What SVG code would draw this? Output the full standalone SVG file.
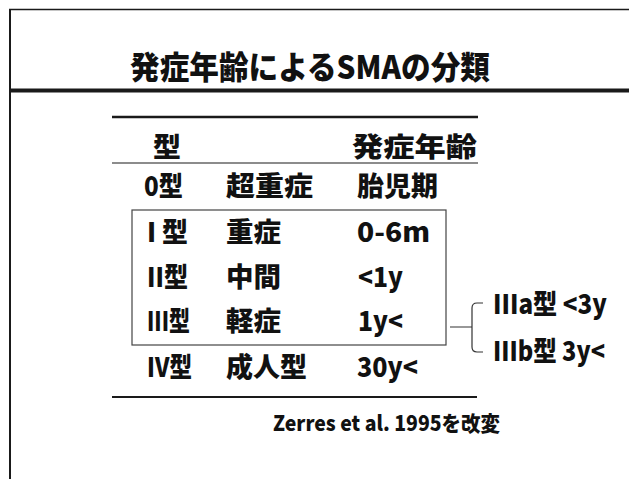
<svg xmlns="http://www.w3.org/2000/svg" width="629" height="479" viewBox="0 0 629 479">
<style>
.t{font-family:"Noto Sans CJK JP","Liberation Sans",sans-serif;font-weight:900;fill:#111;}
.r{font-size:27px;}
.rule{stroke:#1a1a1a;fill:none;}
.thin{stroke:#333;fill:none;stroke-width:1.2;}
</style>
<rect width="629" height="479" fill="#fff"/>
<g id="frame">
<line class="rule" x1="9" y1="9.5" x2="629" y2="9.5" stroke-width="1.5"/>
<line class="rule" x1="10" y1="9" x2="10" y2="479" stroke-width="2"/>
<line class="rule" x1="9" y1="90.5" x2="629" y2="90.5" stroke-width="4"/>
</g>
<g id="title">
<text class="t" x="130" y="79" font-size="32" textLength="360" lengthAdjust="spacingAndGlyphs">発症年齢によるSMAの分類</text>
</g>
<g id="table-rules">
<line class="rule" x1="112" y1="117" x2="478" y2="117" stroke-width="2.5"/>
<line class="rule" x1="112" y1="163" x2="478" y2="163" stroke-width="1.2"/>
<line class="rule" x1="112" y1="397" x2="477" y2="397" stroke-width="2"/>
</g>
<g id="header">
<text class="t r" x="153" y="157" textLength="28" lengthAdjust="spacingAndGlyphs">型</text>
<text class="t r" x="352" y="157" textLength="125" lengthAdjust="spacingAndGlyphs">発症年齢</text>
</g>
<g id="row0">
<text class="t r" x="144" y="196" textLength="39" lengthAdjust="spacingAndGlyphs">0型</text>
<text class="t r" x="226" y="196" textLength="87" lengthAdjust="spacingAndGlyphs">超重症</text>
<text class="t r" x="357" y="196" textLength="81" lengthAdjust="spacingAndGlyphs">胎児期</text>
</g>
<g id="box">
<rect x="132" y="210" width="314" height="135" fill="none" stroke="#444" stroke-width="1.2"/>
</g>
<g id="row1">
<text class="t r" x="147" y="242" textLength="41" lengthAdjust="spacingAndGlyphs">I 型</text>
<text class="t r" x="226" y="242" textLength="55" lengthAdjust="spacingAndGlyphs">重症</text>
<text class="t r" x="357" y="242" textLength="73" lengthAdjust="spacingAndGlyphs">0-6m</text>
</g>
<g id="row2">
<text class="t r" x="147" y="287" textLength="41" lengthAdjust="spacingAndGlyphs">II型</text>
<text class="t r" x="226" y="287" textLength="55" lengthAdjust="spacingAndGlyphs">中間</text>
<text class="t r" x="358" y="287" textLength="45" lengthAdjust="spacingAndGlyphs">&lt;1y</text>
</g>
<g id="row3">
<text class="t r" x="147" y="331" textLength="43" lengthAdjust="spacingAndGlyphs">III型</text>
<text class="t r" x="226" y="331" textLength="55" lengthAdjust="spacingAndGlyphs">軽症</text>
<text class="t r" x="358" y="331" textLength="45" lengthAdjust="spacingAndGlyphs">1y&lt;</text>
</g>
<g id="row4">
<text class="t r" x="147" y="377" textLength="45" lengthAdjust="spacingAndGlyphs">IV型</text>
<text class="t r" x="226" y="377" textLength="81" lengthAdjust="spacingAndGlyphs">成人型</text>
<text class="t r" x="357" y="377" textLength="61" lengthAdjust="spacingAndGlyphs">30y&lt;</text>
</g>
<g id="connectors">
<path class="thin" d="M450,327 H472 M483,303 H477 Q472,303 472,308 V347 Q472,352 477,352 H483"/>
</g>
<g id="row3a">
<text class="t r" x="493" y="314" textLength="114" lengthAdjust="spacingAndGlyphs">IIIa型 &lt;3y</text>
</g>
<g id="row3b">
<text class="t r" x="493" y="361" textLength="112" lengthAdjust="spacingAndGlyphs">IIIb型 3y&lt;</text>
</g>
<g id="citation">
<text class="t" x="273" y="431" font-size="21" textLength="227" lengthAdjust="spacingAndGlyphs">Zerres et al. 1995を改変</text>
</g>
</svg>
